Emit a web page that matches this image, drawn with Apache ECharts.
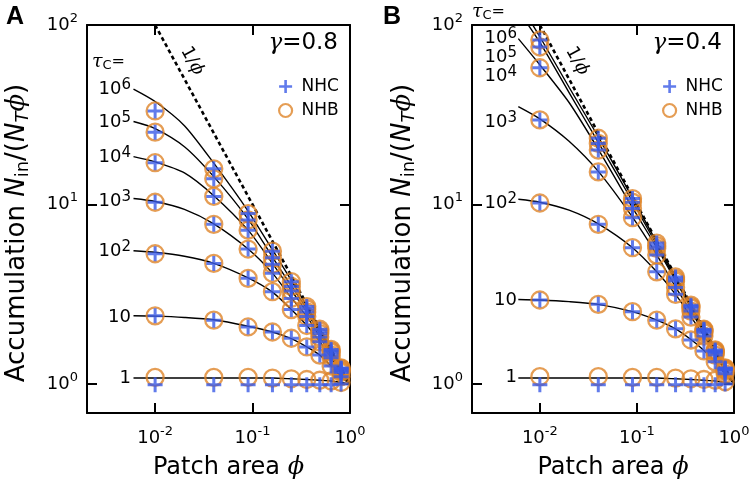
<!DOCTYPE html>
<html><head><meta charset="utf-8">
<script src="https://cdn.jsdelivr.net/npm/echarts@6/dist/echarts.min.js"></script>
<style>html,body{margin:0;padding:0;background:#fff}#c{width:756px;height:487px}</style>
</head><body><div id="c"></div>
<script>
// ---------- data ----------
const phi = [0.01, 0.04, 0.09, 0.16, 0.25, 0.36, 0.49, 0.64, 0.81];
const phiCurve = [0.006, 0.01, 0.02, 0.04, 0.09, 0.16, 0.25, 0.36, 0.49, 0.64, 0.81, 1.0];
const invPhiX = [0.01, 1];
const invPhiY = [100, 1];

// Panel A (gamma = 0.8), NHB (circles)
const nhbA6 = [33.2, 15.8, 8.9, 5.5, 3.72, 2.70, 2.02, 1.56, 1.23];
const nhbA5 = [25.3, 13.9, 8.2, 5.05, 3.50, 2.62, 1.97, 1.53, 1.22];
const nhbA4 = [17.1, 11.1, 7.2, 4.65, 3.30, 2.52, 1.91, 1.50, 1.20];
const nhbA3 = [10.3, 7.76, 5.65, 4.14, 3.00, 2.38, 1.83, 1.45, 1.18];
const nhbA2 = [5.32, 4.70, 3.88, 3.27, 2.60, 2.12, 1.72, 1.40, 1.16];
const nhbA1 = [2.40, 2.27, 2.08, 1.95, 1.80, 1.61, 1.45, 1.26, 1.10];
const nhbA0 = [1.09, 1.09, 1.09, 1.08, 1.07, 1.06, 1.05, 1.04, 1.02];
// Panel A, NHC (crosses)
const nhcA6 = [33.2, 15.8, 8.9, 5.5, 3.72, 2.70, 2.02, 1.56, 1.23];
const nhcA5 = [25.3, 13.9, 8.2, 5.05, 3.50, 2.62, 1.97, 1.53, 1.22];
const nhcA4 = [17.1, 11.1, 7.2, 4.65, 3.30, 2.52, 1.91, 1.50, 1.20];
const nhcA3 = [10.3, 7.76, 5.65, 4.14, 3.00, 2.38, 1.83, 1.45, 1.18];
const nhcA2 = [5.32, 4.70, 3.88, 3.27, 2.60, 2.12, 1.72, 1.40, 1.16];
const nhcA1 = [2.40, 2.27, 2.08, 1.95, 1.80, 1.61, 1.45, 1.26, 1.10];
const nhcA0 = [0.99, 0.99, 0.99, 0.99, 0.99, 0.99, 0.99, 0.99, 1.00];
// Panel A, theory curves
const curA6 = [44, 37.5, 27.5, 17.0, 9.2, 5.6, 3.78, 2.72, 2.03, 1.56, 1.23, 1.0];
const curA5 = [29, 26.5, 21.0, 14.3, 8.3, 5.1, 3.52, 2.63, 1.98, 1.53, 1.22, 1.0];
const curA4 = [18.5, 17.3, 15.0, 11.2, 7.2, 4.7, 3.32, 2.52, 1.91, 1.50, 1.20, 1.0];
const curA3 = [10.8, 10.4, 9.4, 7.8, 5.65, 4.15, 3.02, 2.38, 1.83, 1.45, 1.18, 1.0];
const curA2 = [5.53, 5.42, 5.15, 4.70, 3.90, 3.25, 2.60, 2.12, 1.72, 1.40, 1.16, 1.0];
const curA1 = [2.40, 2.39, 2.35, 2.28, 2.10, 1.95, 1.79, 1.61, 1.45, 1.26, 1.10, 1.0];
const curA0 = [1.08, 1.08, 1.08, 1.08, 1.08, 1.08, 1.07, 1.06, 1.05, 1.04, 1.02, 1.0];

// Panel B (gamma = 0.4), NHB
const nhbB6 = [82.5, 23.4, 10.8, 6.1, 3.95, 2.75, 2.02, 1.55, 1.23];
const nhbB5 = [75.4, 21.9, 10.3, 5.9, 3.85, 2.70, 2.00, 1.53, 1.22];
const nhbB4 = [57.8, 20.1, 9.5, 5.7, 3.75, 2.65, 1.97, 1.51, 1.21];
const nhbB3 = [29.6, 15.2, 8.45, 5.23, 3.45, 2.55, 1.93, 1.50, 1.20];
const nhbB2 = [10.2, 7.76, 5.75, 4.22, 3.16, 2.36, 1.85, 1.45, 1.18];
const nhbB1 = [2.94, 2.78, 2.53, 2.27, 2.03, 1.76, 1.53, 1.33, 1.14];
const nhbB0 = [1.10, 1.10, 1.09, 1.09, 1.08, 1.07, 1.06, 1.05, 1.03];
// Panel B, NHC
const nhcB6 = [82.5, 23.4, 10.8, 6.1, 3.95, 2.75, 2.02, 1.55, 1.23];
const nhcB5 = [75.4, 21.9, 10.3, 5.9, 3.85, 2.70, 2.00, 1.53, 1.22];
const nhcB4 = [57.8, 20.1, 9.5, 5.7, 3.75, 2.65, 1.97, 1.51, 1.21];
const nhcB3 = [29.6, 15.2, 8.45, 5.23, 3.45, 2.55, 1.93, 1.50, 1.20];
const nhcB2 = [10.2, 7.76, 5.75, 4.22, 3.16, 2.36, 1.85, 1.45, 1.18];
const nhcB1 = [2.94, 2.78, 2.53, 2.27, 2.03, 1.76, 1.53, 1.33, 1.14];
const nhcB0 = [0.99, 0.99, 0.99, 0.99, 0.99, 0.99, 0.99, 0.99, 1.00];
// Panel B, theory curves
const curB6 = [135, 86, 45, 23.8, 10.9, 6.15, 3.97, 2.76, 2.03, 1.56, 1.23, 1.0];
const curB5 = [120, 80, 42, 22.2, 10.4, 5.95, 3.87, 2.71, 2.00, 1.54, 1.22, 1.0];
const curB4 = [84, 60, 37, 20.3, 9.6, 5.75, 3.77, 2.66, 1.97, 1.52, 1.21, 1.0];
const curB3 = [35.1, 30.0, 22.5, 15.3, 8.5, 5.25, 3.47, 2.55, 1.93, 1.50, 1.20, 1.0];
const curB2 = [10.7, 10.3, 9.3, 7.8, 5.75, 4.22, 3.16, 2.37, 1.86, 1.46, 1.18, 1.0];
const curB1 = [2.96, 2.94, 2.88, 2.78, 2.53, 2.27, 2.03, 1.77, 1.54, 1.33, 1.14, 1.0];
const curB0 = [1.08, 1.08, 1.08, 1.08, 1.08, 1.08, 1.07, 1.06, 1.05, 1.04, 1.02, 1.0];

// tick labels
const xTicks = [0.01, 0.1, 1];
const xTickExp = ['-2', '-1', '0'];
const yTicks = [1, 10, 100];
const yTickExp = ['0', '1', '2'];

// text
const tauBase = ['10', '10', '10', '10', '10', '10', '1'];
const tauExp = ['6', '5', '4', '3', '2', '', ''];
const gammaText = ['0.8', '0.4'];
const panelLetters = ['A', 'B'];

// ---------- styling / layout ----------
const FONT = 'DejaVu Sans';
const BLUE = '#3a5ae6';
const ORANGE = '#df8429';
const PLUS = 'path://M4,0H6V4H10V6H6V10H4V6H0V4H4Z';
const grids = [
  {left: 87, top: 25, width: 263, height: 388},
  {left: 472, top: 25, width: 262, height: 388}
];
const tauLabelY = [[89, 122, 157, 201, 251, 317, 378], [38, 57, 76, 122, 203, 300, 377]];
const tauLabelRight = [131, 517];
const tauHeadPos = [[92, 62], [472, 12]];

function pairs(xs, ys) { return xs.map((x, i) => [x, ys[i]]); }
function findIdx(arr, v) { return arr.findIndex(t => Math.abs(Math.log10(v / t)) < 1e-6); }

const axisRich = {
  b: {fontSize: 18, fontFamily: FONT, color: '#000'},
  s: {fontSize: 13, fontFamily: FONT, color: '#000', padding: [0, 0, 13, 0]}
};

function xAx(gi, pos, lab) {
  return {
    type: 'log', logBase: 10, gridIndex: gi, position: pos, min: 0.002, max: 1,
    axisLine: {show: true, onZero: false, lineStyle: {color: '#000', width: 2}},
    axisTick: {show: true, inside: true, length: 10, lineStyle: {color: '#000', width: 2}},
    minorTick: {show: false}, splitLine: {show: false}, minorSplitLine: {show: false},
    axisLabel: lab ? {
      show: true, margin: 12, rich: axisRich,
      formatter: v => { const i = findIdx(xTicks, v); return i < 0 ? '' : '{b|10}{s|' + xTickExp[i] + '}'; }
    } : {show: false}
  };
}
function yAx(gi, pos, lab) {
  return {
    type: 'log', logBase: 10, gridIndex: gi, position: pos, min: 0.69, max: 100,
    axisLine: {show: true, onZero: false, lineStyle: {color: '#000', width: 2}},
    axisTick: {show: true, inside: true, length: 10, lineStyle: {color: '#000', width: 2}},
    minorTick: {show: false}, splitLine: {show: false}, minorSplitLine: {show: false},
    axisLabel: lab ? {
      show: true, margin: 9, rich: axisRich,
      formatter: v => { const i = findIdx(yTicks, v); return i < 0 ? '' : '{b|10}{s|' + yTickExp[i] + '}'; }
    } : {show: false}
  };
}

const panels = [
  {nhb: [nhbA6, nhbA5, nhbA4, nhbA3, nhbA2, nhbA1, nhbA0],
   nhc: [nhcA6, nhcA5, nhcA4, nhcA3, nhcA2, nhcA1, nhcA0],
   cur: [curA6, curA5, curA4, curA3, curA2, curA1, curA0]},
  {nhb: [nhbB6, nhbB5, nhbB4, nhbB3, nhbB2, nhbB1, nhbB0],
   nhc: [nhcB6, nhcB5, nhcB4, nhcB3, nhcB2, nhcB1, nhcB0],
   cur: [curB6, curB5, curB4, curB3, curB2, curB1, curB0]}
];

const series = [];
panels.forEach((p, k) => {
  const ax = {xAxisIndex: k * 2, yAxisIndex: k * 2};
  p.cur.forEach(c => series.push(Object.assign({
    type: 'line', data: pairs(phiCurve, c), smooth: 0.25,
    symbol: 'none', silent: true, z: 2, lineStyle: {color: '#000', width: 1.4}
  }, ax)));
  series.push(Object.assign({
    type: 'line', data: pairs(invPhiX, invPhiY), symbol: 'none', silent: true, z: 2,
    lineStyle: {color: '#000', width: 2.6, type: [4, 3]}
  }, ax));
  series.push(Object.assign({
    name: 'NHB', type: 'scatter', z: 3, silent: true,
    data: p.nhb.flatMap(r => pairs(phi, r)),
    symbol: 'circle', symbolSize: 17,
    itemStyle: {color: 'rgba(255,255,255,0)', borderColor: ORANGE, borderWidth: 2.3}
  }, ax));
  series.push(Object.assign({
    name: 'NHC', type: 'scatter', z: 4, silent: true,
    data: p.nhc.flatMap(r => pairs(phi, r)),
    symbol: PLUS, symbolSize: 15,
    itemStyle: {color: BLUE}
  }, ax));
});

// ---------- graphic texts ----------
const graphic = [];
function text(x, y, str, rich, opts) {
  graphic.push(Object.assign({
    type: 'text', x: x, y: y, silent: true, z: 100,
    style: Object.assign({text: str, rich: rich, fill: '#000', font: '18px ' + FONT,
      align: 'left', verticalAlign: 'middle'}, opts && opts.style)
  }, opts && opts.el));
}
const tauRich = {
  b: {fontSize: 18, fontFamily: FONT, fill: '#000'},
  s: {fontSize: 15, fontFamily: FONT, fill: '#000', padding: [0, 0, 7, 0]}
};
const headRich = {
  t: {fontSize: 19, fontFamily: 'DejaVu Serif', fontStyle: 'italic', fill: '#000'},
  c: {fontSize: 13, fontFamily: FONT, fill: '#000', padding: [8, 0, 0, 0]},
  e: {fontSize: 16, fontFamily: FONT, fill: '#000'}
};
function titleRich(fs) {
  const sf = Math.round(fs * 0.7), pd = Math.round(fs * 0.45);
  return {
    a: {fontSize: fs, fontFamily: FONT, fill: '#000'},
    i: {fontSize: fs, fontFamily: FONT, fontStyle: 'italic', fill: '#000'},
    sub: {fontSize: sf, fontFamily: FONT, fill: '#000', padding: [pd, 0, 0, 0]},
    subi: {fontSize: sf, fontFamily: FONT, fontStyle: 'italic', fill: '#000', padding: [pd, 0, 0, 0]},
    p: {fontSize: fs, fontFamily: 'DejaVu Serif', fontStyle: 'italic', fill: '#000'}
  };
}
const gRich = {
  g: {fontSize: 23, fontFamily: 'DejaVu Serif', fontStyle: 'italic', fill: '#000'},
  v: {fontSize: 23, fontFamily: FONT, fill: '#000'}
};
const invRich = {
  a: {fontSize: 18, fontFamily: FONT, fill: '#000'},
  p: {fontSize: 18, fontFamily: 'DejaVu Serif', fontStyle: 'italic', fill: '#000'}
};

[0, 1].forEach(k => {
  const g = grids[k];
  text(k === 0 ? 6 : 383, 17, panelLetters[k], null,
    {style: {font: 'bold 25px "Liberation Sans"'}});
  text(k === 0 ? 17 : 403, 233,
    '{a|Accumulation }{i|N}{sub|in}{a|/(}{i|N}{subi|T}{p|ϕ}{a|)}', titleRich(26),
    {el: {rotation: Math.PI / 2}, style: {align: 'center'}});
  text(g.left + g.width / 2 + 10, 468, '{a|Patch area }{p|ϕ}', titleRich(24), {style: {align: 'center'}});
  text(g.left + g.width - 12, 43, '{g|γ}{v|=' + gammaText[k] + '}', gRich, {style: {align: 'right'}});
  text(k === 0 ? 192 : 577, 61, '{a|1/}{p|ϕ}', invRich,
    {el: {rotation: -1.07}, style: {align: 'center'}});
  text(tauHeadPos[k][0], tauHeadPos[k][1], '{t|τ}{c|C}{e|=}', headRich);
  tauBase.forEach((b, i) => {
    const s = tauExp[i] ? '{b|' + b + '}{s|' + tauExp[i] + '}' : '{b|' + b + '}';
    text(tauLabelRight[k], tauLabelY[k][i], s, tauRich, {style: {align: 'right'}});
  });
});

const legendCommon = {
  orient: 'vertical', itemWidth: 22, itemHeight: 13, itemGap: 7, padding: 0,
  selectedMode: false,
  textStyle: {fontSize: 17, fontFamily: FONT, color: '#000'},
  data: [
    {name: 'NHC', icon: PLUS, itemStyle: {color: BLUE}},
    {name: 'NHB', icon: 'circle', itemStyle: {color: 'rgba(255,255,255,0)', borderColor: ORANGE, borderWidth: 2.2}}
  ]
};

const option = {
  animation: false,
  backgroundColor: '#fff',
  grid: grids,
  xAxis: [xAx(0, 'bottom', true), xAx(0, 'top', false), xAx(1, 'bottom', true), xAx(1, 'top', false)],
  yAxis: [yAx(0, 'left', true), yAx(0, 'right', false), yAx(1, 'left', true), yAx(1, 'right', false)],
  legend: [
    Object.assign({left: 278, top: 78}, legendCommon),
    Object.assign({left: 662, top: 78}, legendCommon)
  ],
  series: series,
  graphic: graphic
};
const chart = echarts.init(document.getElementById('c'));
chart.setOption(option);
</script>
</body></html>
